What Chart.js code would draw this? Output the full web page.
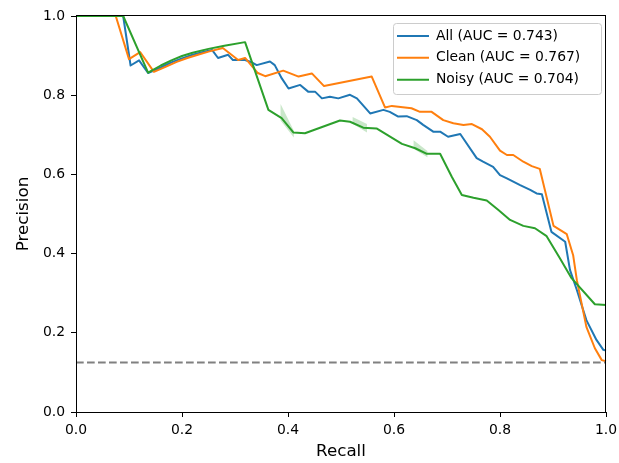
<!DOCTYPE html>
<html>
<head>
<meta charset="utf-8">
<script src="https://cdn.jsdelivr.net/npm/chart.js@4.4.1/dist/chart.umd.min.js"></script>
<style>
  html, body { margin: 0; padding: 0; background: #fff; }
  #wrap { width: 619px; height: 463px; }
</style>
</head>
<body>
<div id="wrap"><canvas id="c" width="619" height="463"></canvas></div>
<script>
// ---- data ----
const seriesLabels = ['All (AUC = 0.743)', 'Clean (AUC = 0.767)', 'Noisy (AUC = 0.704)'];

const allRecall = [0, 0.089, 0.103, 0.119, 0.136, 0.16, 0.18, 0.20, 0.22, 0.24, 0.257, 0.268, 0.287, 0.296, 0.319, 0.330, 0.341, 0.366, 0.375, 0.388, 0.401, 0.423, 0.438, 0.451, 0.464, 0.479, 0.495, 0.517, 0.530, 0.555, 0.580, 0.592, 0.608, 0.624, 0.643, 0.655, 0.674, 0.687, 0.702, 0.725, 0.756, 0.768, 0.787, 0.800, 0.813, 0.838, 0.857, 0.869, 0.879, 0.897, 0.923, 0.932, 0.945, 0.963, 0.982, 0.995, 1.0];
const allPrecision = [1, 1, 0.875, 0.888, 0.856, 0.870, 0.883, 0.893, 0.902, 0.909, 0.914, 0.894, 0.902, 0.889, 0.889, 0.884, 0.876, 0.885, 0.876, 0.843, 0.817, 0.826, 0.809, 0.809, 0.792, 0.796, 0.792, 0.801, 0.792, 0.754, 0.763, 0.758, 0.746, 0.747, 0.737, 0.725, 0.708, 0.708, 0.695, 0.702, 0.641, 0.632, 0.619, 0.598, 0.590, 0.573, 0.561, 0.552, 0.550, 0.455, 0.430, 0.359, 0.308, 0.232, 0.182, 0.157, 0.155];

const cleanRecall = [0, 0.075, 0.100, 0.121, 0.147, 0.17, 0.19, 0.21, 0.23, 0.25, 0.277, 0.306, 0.319, 0.343, 0.357, 0.391, 0.420, 0.445, 0.468, 0.558, 0.583, 0.596, 0.633, 0.649, 0.671, 0.693, 0.712, 0.731, 0.747, 0.766, 0.781, 0.800, 0.813, 0.825, 0.844, 0.860, 0.875, 0.901, 0.926, 0.938, 0.945, 0.963, 0.979, 0.992, 1.0];
const cleanPrecision = [1, 1, 0.891, 0.909, 0.859, 0.872, 0.884, 0.894, 0.902, 0.910, 0.919, 0.889, 0.894, 0.856, 0.848, 0.862, 0.847, 0.855, 0.823, 0.847, 0.769, 0.773, 0.767, 0.758, 0.758, 0.737, 0.729, 0.725, 0.727, 0.714, 0.695, 0.660, 0.649, 0.649, 0.632, 0.621, 0.614, 0.470, 0.449, 0.396, 0.333, 0.215, 0.161, 0.131, 0.128];

const noisyRecall = [0, 0.089, 0.136, 0.16, 0.18, 0.20, 0.22, 0.25, 0.28, 0.319, 0.363, 0.388, 0.410, 0.432, 0.498, 0.517, 0.542, 0.567, 0.615, 0.640, 0.662, 0.687, 0.709, 0.728, 0.750, 0.775, 0.797, 0.819, 0.844, 0.866, 0.888, 0.913, 0.935, 0.979, 1.0];
const noisyPrecision = [1, 1, 0.857, 0.875, 0.888, 0.899, 0.907, 0.917, 0.925, 0.934, 0.763, 0.742, 0.706, 0.704, 0.736, 0.733, 0.718, 0.716, 0.677, 0.666, 0.652, 0.652, 0.594, 0.548, 0.541, 0.534, 0.510, 0.485, 0.470, 0.464, 0.444, 0.388, 0.338, 0.272, 0.270];

// faint spread bands around the noisy curve (closed shapes)
const noisyBand1Recall = [0.386, 0.411, 0.411, 0.386, 0.386];
const noisyBand1Precision = [0.778, 0.710, 0.693, 0.736, 0.778];
const noisyBand2Recall = [0.522, 0.549, 0.549, 0.522, 0.522];
const noisyBand2Precision = [0.745, 0.727, 0.706, 0.728, 0.745];
const noisyBand3Recall = [0.637, 0.663, 0.663, 0.637, 0.637];
const noisyBand3Precision = [0.686, 0.659, 0.643, 0.665, 0.686];

const baselineRecall = [0, 1];
const baselinePrecision = [0.125, 0.125];

const tickValues = [0, 0.2, 0.4, 0.6, 0.8, 1.0];

// ---- build ----
const pts = (xs, ys) => xs.map((x, i) => ({ x: x, y: ys[i] }));
const FONT = 'DejaVu Sans';
Chart.defaults.font.family = FONT;
Chart.defaults.color = '#000';

const framePlugin = {
  id: 'frame',
  afterLayout(chart) {
    const lg = chart.legend;
    if (!lg) return;
    const w = lg.width;
    lg.left = 389; lg.right = 389 + w;
    lg.top = 21; lg.bottom = 21 + 200;
  },
  beforeDraw(chart) {
    const ctx = chart.ctx;
    ctx.save();
    ctx.fillStyle = '#fff';
    ctx.fillRect(0, 0, chart.width, chart.height);
    const x = 393.5, y = 23.5, w = 208, h = 71, r = 3;
    ctx.beginPath();
    ctx.moveTo(x + r, y);
    ctx.arcTo(x + w, y, x + w, y + h, r);
    ctx.arcTo(x + w, y + h, x, y + h, r);
    ctx.arcTo(x, y + h, x, y, r);
    ctx.arcTo(x, y, x + w, y, r);
    ctx.closePath();
    ctx.fillStyle = 'rgba(255,255,255,0.8)';
    ctx.fill();
    ctx.strokeStyle = '#cccccc';
    ctx.lineWidth = 1;
    ctx.stroke();
    ctx.restore();
  },
  afterDraw(chart) {
    const a = chart.chartArea;
    const ctx = chart.ctx;
    ctx.save();
    ctx.strokeStyle = '#000';
    ctx.lineWidth = 1;
    ctx.strokeRect(Math.round(a.left) + 0.5, Math.round(a.top) - 0.5, Math.round(a.right - a.left) - 1, Math.round(a.bottom - a.top) + 1);
    ctx.restore();
  }
};

const lineDs = (label, data, color, order) => ({
  label: label, data: data, borderColor: color, backgroundColor: color,
  borderWidth: 2, pointRadius: 0, tension: 0, fill: false,
  borderJoinStyle: 'round', order: order, clip: 3
});
const bandDs = (data) => ({
  label: 'band', data: data, borderWidth: 0, borderColor: 'rgba(0,0,0,0)',
  backgroundColor: 'rgba(44,160,44,0.25)', pointRadius: 0, tension: 0,
  fill: 'shape', order: 5
});

new Chart(document.getElementById('c'), {
  type: 'line',
  data: {
    datasets: [
      lineDs(seriesLabels[0], pts(allRecall, allPrecision), '#1f77b4', 3),
      lineDs(seriesLabels[1], pts(cleanRecall, cleanPrecision), '#ff7f0e', 2),
      lineDs(seriesLabels[2], pts(noisyRecall, noisyPrecision), '#2ca02c', 1),
      Object.assign(lineDs('baseline', pts(baselineRecall, baselinePrecision), '#808080', 0), { borderDash: [7.7, 3.3] }),
      bandDs(pts(noisyBand1Recall, noisyBand1Precision)),
      bandDs(pts(noisyBand2Recall, noisyBand2Precision)),
      bandDs(pts(noisyBand3Recall, noisyBand3Precision))
    ]
  },
  options: {
    responsive: false,
    animation: false,
    devicePixelRatio: 1,
    layout: { padding: { left: 0, right: 13, top: 16, bottom: 0 } },
    plugins: {
      legend: {
        position: 'chartArea',
        align: 'start',
        labels: {
          filter: (item) => item.datasetIndex < 3,
          sort: (a, b) => a.datasetIndex - b.datasetIndex,
          usePointStyle: true,
          pointStyle: 'line',
          pointStyleWidth: 32,
          padding: 8,
          color: '#000',
          font: { family: FONT, size: 13.9 }
        }
      },
      tooltip: { enabled: false }
    },
    scales: {
      x: {
        type: 'linear', min: 0, max: 1,
        afterFit: (s) => { s.height = 51; s.paddingLeft = 0; s.paddingRight = 0; },
        afterBuildTicks: (s) => { s.ticks = tickValues.map(v => ({ value: v })); },
        ticks: { callback: (v) => Number(v).toFixed(1), padding: 5, maxRotation: 0, autoSkip: false, color: '#000', font: { family: FONT, size: 13.9 } },
        grid: { drawOnChartArea: false, drawTicks: true, tickLength: 5, tickWidth: 1, tickColor: '#000' },
        border: { display: true, color: '#000', width: 1 },
        title: { display: true, text: 'Recall', color: '#000', font: { family: FONT, size: 16.7 }, padding: { top: 0, bottom: 1 } }
      },
      y: {
        type: 'linear', min: 0, max: 1,
        afterFit: (s) => { s.width = 76; s.paddingTop = 0; s.paddingBottom = 0; },
        afterBuildTicks: (s) => { s.ticks = tickValues.map(v => ({ value: v })); },
        ticks: { callback: (v) => Number(v).toFixed(1), padding: 6, autoSkip: false, color: '#000', font: { family: FONT, size: 13.9 } },
        grid: { drawOnChartArea: false, drawTicks: true, tickLength: 5, tickWidth: 1, tickColor: '#000' },
        border: { display: true, color: '#000', width: 1 },
        title: { display: true, text: 'Precision', color: '#000', font: { family: FONT, size: 16.7 }, padding: { top: 14, bottom: 0 } }
      }
    }
  },
  plugins: [framePlugin]
});
</script>
</body>
</html>
